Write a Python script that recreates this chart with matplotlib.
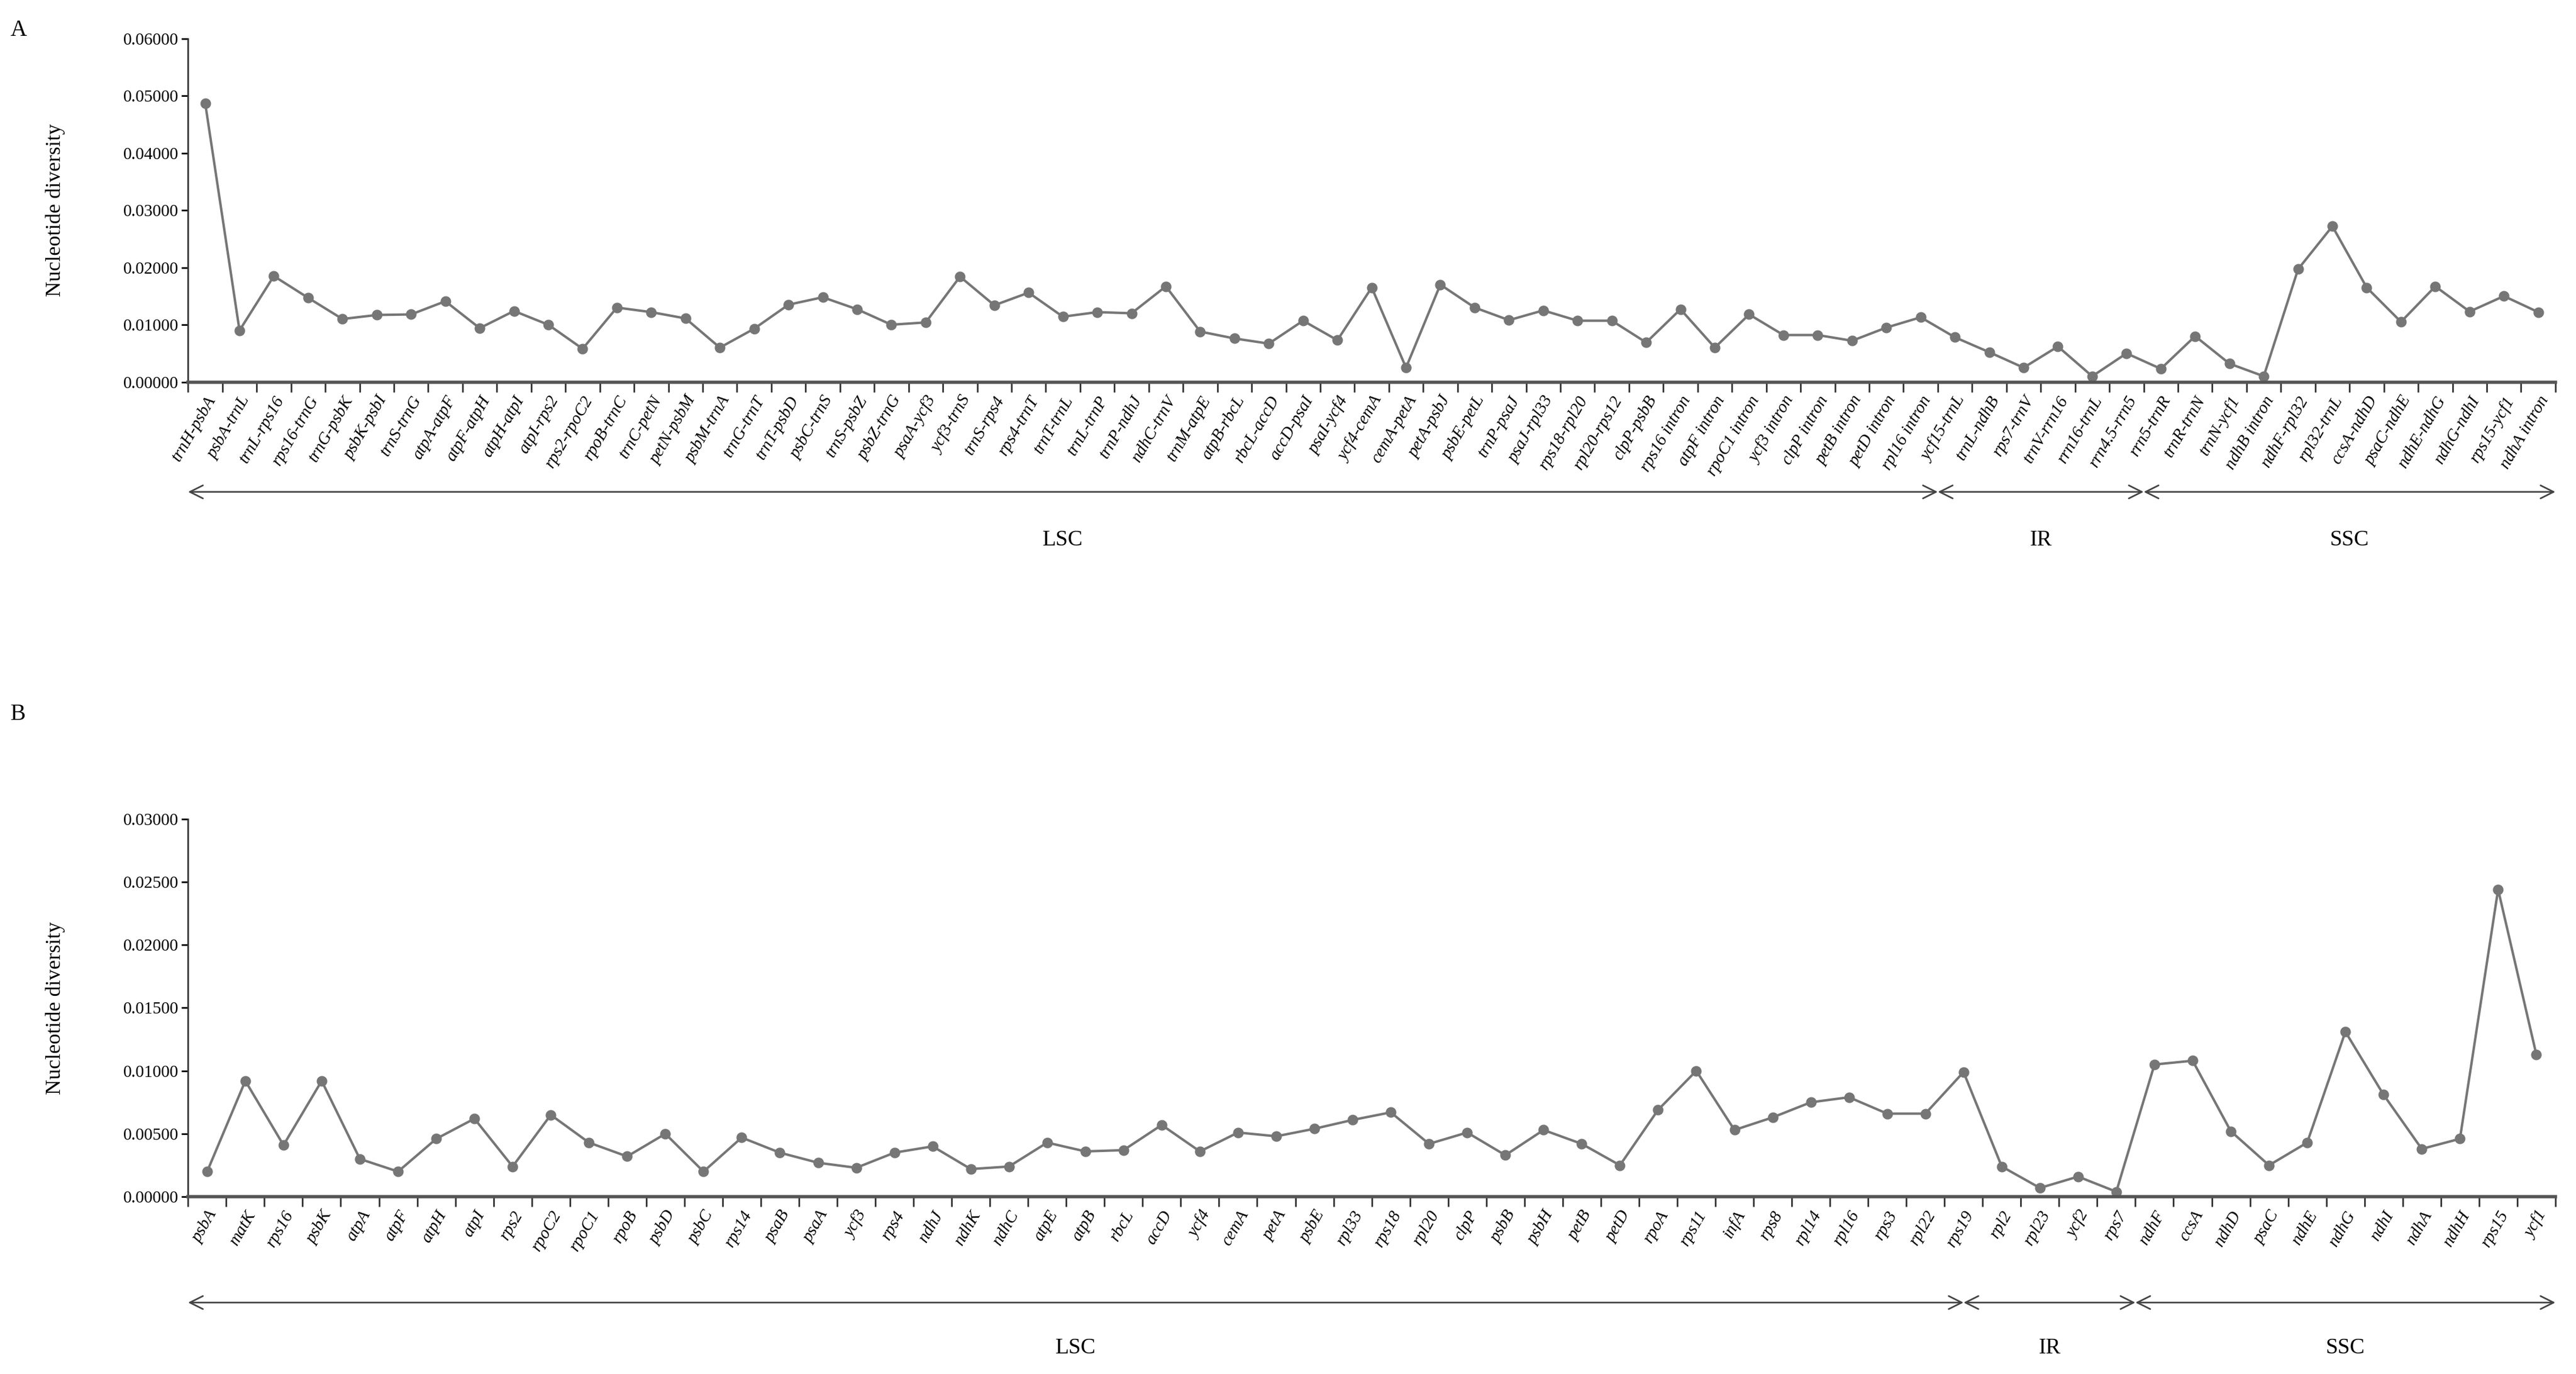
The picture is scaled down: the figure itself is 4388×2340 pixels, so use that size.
import matplotlib
matplotlib.use("Agg")
import matplotlib.pyplot as plt
from matplotlib.ticker import FixedLocator, FormatStrFormatter

labels_a = ["trnH-psbA","psbA-trnL","trnL-rps16","rps16-trnG","trnG-psbK","psbK-psbI","trnS-trnG",
 "atpA-atpF","atpF-atpH","atpH-atpI","atpI-rps2","rps2-rpoC2","rpoB-trnC","trnC-petN","petN-psbM",
 "psbM-trnA","trnG-trnT","trnT-psbD","psbC-trnS","trnS-psbZ","psbZ-trnG","psaA-ycf3","ycf3-trnS",
 "trnS-rps4","rps4-trnT","trnT-trnL","trnL-trnP","trnP-ndhJ","ndhC-trnV","trnM-atpE","atpB-rbcL",
 "rbcL-accD","accD-psaI","psaI-ycf4","ycf4-cemA","cemA-petA","petA-psbJ","psbE-petL","trnP-psaJ",
 "psaJ-rpl33","rps18-rpl20","rpl20-rps12","clpP-psbB","rps16 intron","atpF intron","rpoC1 intron",
 "ycf3 intron","clpP intron","petB intron","petD intron","rpl16 intron","ycf15-trnL","trnL-ndhB",
 "rps7-trnV","trnV-rrn16","rrn16-trnL","rrn4.5-rrn5","rrn5-trnR","trnR-trnN","trnN-ycf1",
 "ndhB intron","ndhF-rpl32","rpl32-trnL","ccsA-ndhD","psaC-ndhE","ndhE-ndhG","ndhG-ndhI",
 "rps15-ycf1","ndhA intron"]
values_a = [0.0487,0.0090,0.0185,0.0147,0.0110,0.0117,0.0118,0.0141,0.0094,0.0124,0.0100,0.0058,
 0.0130,0.0122,0.0111,0.0060,0.0093,0.0135,0.0148,0.0127,0.0100,0.0104,0.0184,0.0134,0.0156,
 0.0114,0.0122,0.0120,0.0167,0.0088,0.0076,0.0067,0.0107,0.0073,0.0165,0.0025,0.0170,0.0130,
 0.0108,0.0125,0.0107,0.0107,0.0069,0.0127,0.0060,0.0118,0.0082,0.0082,0.0072,0.0095,0.0113,
 0.0078,0.0052,0.0025,0.0062,0.0010,0.0050,0.0023,0.0080,0.0032,0.0010,0.0197,0.0272,0.0165,
 0.0105,0.0167,0.0123,0.0150,0.0122]

labels_b = ["psbA","matK","rps16","psbK","atpA","atpF","atpH","atpI","rps2","rpoC2","rpoC1","rpoB",
 "psbD","psbC","rps14","psaB","psaA","ycf3","rps4","ndhJ","ndhK","ndhC","atpE","atpB","rbcL",
 "accD","ycf4","cemA","petA","psbE","rpl33","rps18","rpl20","clpP","psbB","psbH","petB","petD",
 "rpoA","rps11","infA","rps8","rpl14","rpl16","rps3","rpl22","rps19","rpl2","rpl23","ycf2","rps7",
 "ndhF","ccsA","ndhD","psaC","ndhE","ndhG","ndhI","ndhA","ndhH","rps15","ycf1"]
values_b = [0.0020,0.0092,0.0041,0.0092,0.0030,0.0020,0.0046,0.0062,0.0024,0.0065,0.0043,0.0032,
 0.0050,0.0020,0.0047,0.0035,0.0027,0.0023,0.0035,0.0040,0.0022,0.0024,0.0043,0.0036,0.0037,
 0.0057,0.0036,0.0051,0.0048,0.0054,0.0061,0.0067,0.0042,0.0051,0.0033,0.0053,0.0042,0.0025,
 0.0069,0.0100,0.0053,0.0063,0.0075,0.0079,0.0066,0.0066,0.0099,0.0024,0.0007,0.0016,0.0004,
 0.0105,0.0108,0.0052,0.0025,0.0043,0.0131,0.0081,0.0038,0.0046,0.0244,0.0113]

regions = ["LSC", "IR", "SSC"]
bounds_a = [-0.5, 50.5, 56.5, 68.5]
bounds_b = [-0.5, 46.0, 50.5, 61.5]

plt.rcParams['font.family'] = ['Liberation Serif', 'DejaVu Serif']
GREY = "#767676"

fig = plt.figure(figsize=(43.88, 23.40), dpi=100)

def panel(rect, labels, values, ymax, bounds, letter, letter_y, arrow_y, text_y):
    ax = fig.add_axes(rect)
    n = len(labels)
    x = list(range(n))
    ax.plot(x, values, color=GREY, lw=3, marker='o', ms=12, mfc=GREY, mec=GREY)
    ax.set_xlim(-0.5, n - 0.5)
    ax.set_ylim(0, ymax)
    ax.set_yticks([ymax * i / 6 for i in range(7)])
    ax.yaxis.set_major_formatter(FormatStrFormatter('%.5f'))
    ax.set_xticks(x)
    ax.set_xticklabels(labels, rotation=60, ha='right', rotation_mode='anchor',
                       fontsize=21, style='italic')
    ax.tick_params(axis='x', which='major', length=0, pad=14)
    ax.xaxis.set_minor_locator(FixedLocator([i - 0.5 for i in range(n + 1)]))
    ax.tick_params(axis='x', which='minor', length=12, width=2, color='#333333')
    ax.tick_params(axis='y', labelsize=21, length=8, width=2)
    for s in ['top', 'right']:
        ax.spines[s].set_visible(False)
    ax.spines['bottom'].set_color('#555555')
    ax.spines['bottom'].set_linewidth(4)
    ax.spines['left'].set_color('#333333')
    ax.spines['left'].set_linewidth(2)
    ax.set_ylabel("Nucleotide diversity", fontsize=26, labelpad=18)
    ax.yaxis.set_label_coords(-0.052, 0.5)
    fig.text(0.004, letter_y, letter, fontsize=28, va='center')
    tr = ax.get_xaxis_transform()
    for i, name in enumerate(regions):
        x0, x1 = bounds[i], bounds[i + 1]
        ax.annotate("", xy=(x0, arrow_y), xytext=(x1, arrow_y), xycoords=tr, textcoords=tr,
                    arrowprops=dict(arrowstyle='<->', color='#444444', lw=2,
                                    mutation_scale=40, shrinkA=0, shrinkB=0),
                    annotation_clip=False)
        ax.text((x0 + x1) / 2, text_y, name, transform=tr, ha='center', va='center',
                fontsize=27, clip_on=False)
    return ax

panel([0.073, 0.722, 0.919, 0.250], labels_a, values_a, 0.06, bounds_a, "A", 0.978, -0.32, -0.46)
panel([0.073, 0.129, 0.919, 0.275], labels_b, values_b, 0.03, bounds_b, "B", 0.480, -0.28, -0.40)

fig.savefig("out.png", dpi=100)
